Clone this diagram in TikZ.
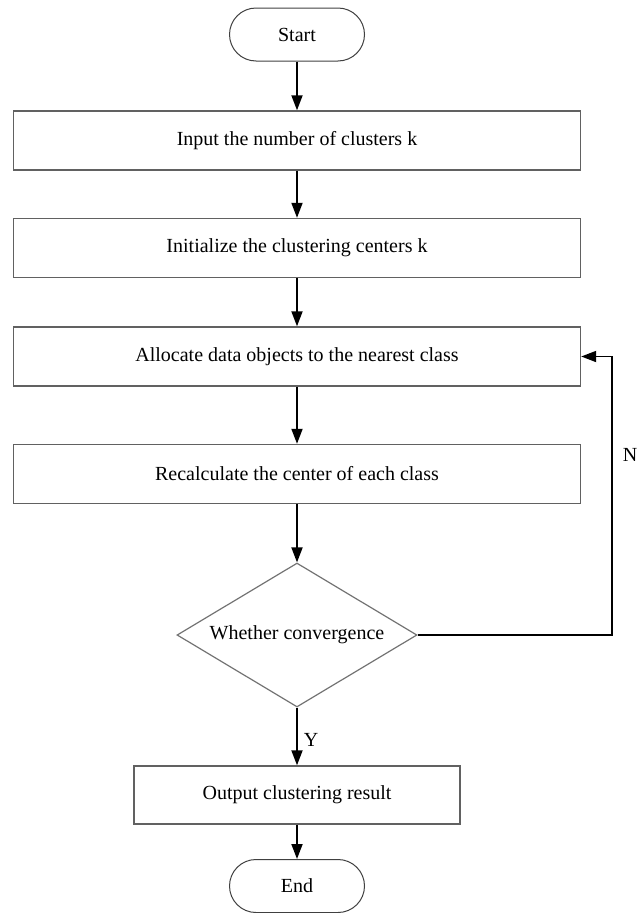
\documentclass[tikz,border=0pt]{standalone}
\usepackage{fontspec}
\setmainfont{Liberation Serif}
\usetikzlibrary{arrows.meta,shapes.geometric}
\begin{document}
\begin{tikzpicture}[x=1pt,y=1pt,
  font=\fontsize{20}{24}\selectfont,
  terminal/.style={draw=black!75, line width=1pt, rounded corners=26.5pt, minimum width=135pt, minimum height=53pt, inner sep=0pt},
  procbox/.style={draw=black!62, line width=1.4pt, minimum width=567pt, minimum height=59pt, inner sep=0pt},
  decision/.style={draw=black!55, line width=1.2pt, shape=diamond, aspect=1.667, minimum width=240pt, minimum height=144pt, inner sep=0pt},
  flow/.style={draw=black, line width=1.8pt, -{Triangle[length=15pt,width=11pt]}},
  lab/.style={inner sep=0pt}
]
\useasboundingbox (0,0) rectangle (638,-913);
\node[terminal] (start) at (297,-34.5) {Start};
\node[procbox] (b1) at (297,-140.5) {Input the number of clusters k};
\node[procbox] (b2) at (297,-248) {Initialize the clustering centers k};
\node[procbox] (b3) at (297,-356.5) {Allocate data objects to the nearest class};
\node[procbox] (b4) at (297,-474) {Recalculate the center of each class};
\node[decision] (d) at (297,-635) {Whether convergence};
\node[procbox, minimum width=326pt, minimum height=58pt] (b5) at (297,-795) {Output clustering result};
\node[terminal] (end) at (297,-886) {End};
\coordinate (c1) at (612,-635);
\coordinate (c2) at (612,-356.5);
\draw[flow] (start) -- (b1);
\draw[flow] (b1) -- (b2);
\draw[flow] (b2) -- (b3);
\draw[flow] (b3) -- (b4);
\draw[flow] (b4) -- (d);
\draw[flow] (d) -- (b5);
\draw[flow] (b5) -- (end);
\draw[flow] (d.east) -- (c1) -- (c2) -- (b3.east);
\node[lab] (ylab) at (311,-740) {Y};
\node[lab] (nlab) at (630,-455) {N};
\end{tikzpicture}
\end{document}
